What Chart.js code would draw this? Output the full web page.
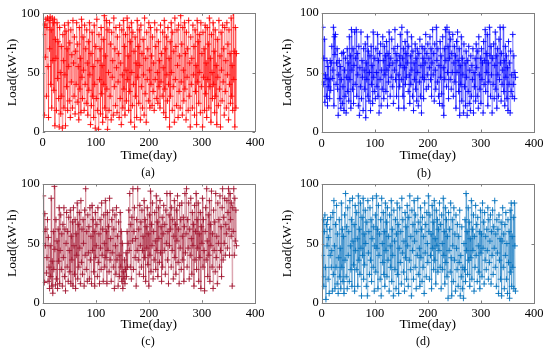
<!DOCTYPE html>
<html>
<head>
<meta charset="utf-8">
<script src="https://cdn.jsdelivr.net/npm/chart.js@4.4.0/dist/chart.umd.min.js"></script>
<style>
  html, body { margin: 0; padding: 0; background: #fff; }
  #wrap { position: relative; width: 550px; height: 349px; overflow: hidden; }
  canvas { position: absolute; }
  .cap { position: absolute; font-family: "Liberation Serif", "DejaVu Serif", serif; font-size: 12px; color: #000; transform: translate(-50%, -50%); white-space: nowrap; }
</style>
</head>
<body>
<div id="wrap">
  <canvas id="ca" width="275" height="175" style="left:0px;top:0px;width:275px;height:175px"></canvas>
  <canvas id="cb" width="275" height="175" style="left:275px;top:0px;width:275px;height:175px"></canvas>
  <canvas id="cc" width="275" height="175" style="left:0px;top:171px;width:275px;height:175px"></canvas>
  <canvas id="cd" width="275" height="175" style="left:275px;top:171px;width:275px;height:175px"></canvas>
  <div class="cap" style="left:148px;top:172px">(a)</div>
  <div class="cap" style="left:424px;top:173px">(b)</div>
  <div class="cap" style="left:148px;top:341px">(c)</div>
  <div class="cap" style="left:423px;top:341px">(d)</div>
</div>
<script>
const xTickValues = [0, 100, 200, 300, 400];
const yTickValues = [0, 50, 100];
const xTitle = "Time(day)";
const yTitle = "Load(kW·h)";

const loadA = [
82,90,14,91,63,95,30,88,96,55,12,94,70,97,40,86,20,96,60,92,
35,95,5,78,62,18,92,45,76,28,4,88,50,15,72,30,3,82,60,20,
90,48,5,85,38,70,18,92,55,26,75,12,86,42,65,20,94,58,30,80,
15,68,40,92,25,74,55,10,88,36,62,16,95,46,28,80,52,18,90,40,
70,24,86,58,14,76,35,92,48,6,66,22,84,30,55,12,90,40,3,72,
28,95,18,60,2,82,44,70,15,88,32,56,8,78,40,98,20,64,12,94,
36,2,86,50,18,92,30,74,10,84,46,60,14,96,38,70,22,88,54,16,
80,42,66,12,90,28,58,6,86,48,20,94,36,72,14,82,52,26,96,44,
64,18,88,34,76,8,92,50,22,84,40,68,4,80,30,58,12,94,46,72,
24,86,56,10,90,38,66,20,78,48,14,96,32,62,8,84,44,70,26,92,
52,20,88,40,64,22,80,34,58,18,92,44,72,28,86,50,24,76,38,60,
20,90,42,66,30,84,54,16,94,36,70,12,80,48,26,88,40,62,4,76,
30,92,50,18,84,38,68,8,96,44,72,22,86,56,12,90,34,64,20,98,
42,74,14,88,52,26,92,36,66,10,84,46,70,18,94,30,58,4,80,40,
62,20,90,48,72,14,86,34,56,6,94,42,76,24,82,50,16,92,38,66,
4,84,46,70,18,90,32,58,12,88,44,74,20,96,38,62,8,82,50,28,
92,40,68,16,86,30,56,6,78,46,22,94,36,64,4,84,52,26,90,42,
70,14,88,34,60,20,92,48,74,10,86,40,66,24,96,30,56,18,100,44,
68,4,88,20,66];

const loadB = [
42,88,40,62,78,25,48,45,30,60,22,55,38,44,28,60,35,58,72,45,
52,88,22,80,65,82,40,58,70,36,14,48,60,28,55,20,44,66,24,38,
67,18,52,30,62,16,46,70,34,58,26,80,44,64,20,86,52,36,70,24,
56,84,40,62,86,30,66,48,22,72,14,54,38,84,28,60,46,18,70,52,
36,74,12,58,44,80,30,68,26,50,64,18,72,40,56,24,84,46,34,62,
28,70,50,38,82,30,60,16,66,44,74,22,52,36,80,60,28,72,48,64,
34,76,52,22,66,42,84,56,30,62,46,78,38,58,24,70,52,86,44,66,
30,60,72,48,20,64,38,82,56,44,88,62,30,70,20,54,76,40,66,46,
84,58,34,72,48,24,64,40,80,52,30,68,18,58,44,74,36,62,26,70,
50,22,66,42,78,30,56,16,72,46,62,28,70,44,58,82,36,66,48,74,
38,62,54,80,44,70,30,58,86,48,66,26,74,52,36,88,60,42,70,30,
56,24,76,46,64,32,22,80,54,14,70,44,86,60,38,88,50,72,28,84,
62,44,78,36,66,50,82,30,58,72,42,64,20,76,50,84,60,34,70,14,
56,40,80,26,62,48,16,74,38,58,22,68,46,14,60,34,72,24,52,18,
64,30,56,44,70,16,50,38,62,26,74,54,30,68,20,80,48,36,62,24,
70,44,58,16,76,40,60,86,34,66,50,82,22,58,42,88,64,30,72,48,
16,62,40,74,28,56,84,36,64,20,70,48,30,78,44,88,58,26,66,40,
52,88,34,60,22,72,46,64,28,54,18,76,40,58,16,68,34,48,30,82,
40,64,28,50,46];

const loadC = [
90,60,17,75,48,62,25,38,70,18,55,30,12,48,22,88,14,35,8,60,
28,98,45,15,70,20,52,12,62,35,80,16,44,74,28,58,14,66,38,80,
22,62,10,50,76,30,60,18,72,44,26,78,16,56,36,68,14,80,48,24,
70,12,58,40,84,20,66,30,76,46,16,86,34,62,24,70,50,14,78,40,
96,28,60,18,74,42,64,20,80,36,56,16,82,44,70,26,60,14,76,38,
48,66,22,80,34,58,16,70,46,28,84,40,62,18,74,50,30,86,38,60,
16,76,44,64,26,88,36,54,18,70,42,78,30,62,12,74,48,24,80,36,
56,14,68,40,22,76,30,60,18,50,12,26,20,36,16,28,42,22,60,30,
50,78,44,92,30,66,20,72,52,96,28,60,80,38,54,14,70,44,96,36,
62,24,82,48,68,30,78,44,56,22,86,38,70,18,64,46,80,32,58,14,
74,40,94,26,66,48,84,20,60,36,76,52,28,90,44,68,22,80,54,34,
86,42,64,18,72,30,58,82,44,66,24,78,50,92,36,60,16,74,48,92,
62,30,80,44,70,20,56,86,38,66,24,78,52,90,34,62,16,82,46,70,
28,84,56,36,72,18,64,92,42,58,96,30,70,46,84,20,62,40,88,54,
24,76,48,66,14,82,36,60,92,28,70,46,84,18,58,38,76,12,64,50,
88,30,70,44,10,60,80,36,96,52,22,74,40,86,18,66,48,94,30,58,
12,78,44,68,26,92,38,56,16,84,50,70,30,90,44,64,22,80,96,36,
72,50,88,40,66,58,86,46,76,96,62,40,92,70,56,84,14,80,60,96,
40,88,52,78,48];

const loadD = [
40,22,70,14,60,74,30,3,66,48,70,20,55,8,62,40,72,30,44,10,
76,24,86,48,12,66,30,82,16,58,8,38,70,22,46,12,84,30,62,18,
56,8,74,36,92,22,64,12,80,40,60,18,86,48,28,70,14,88,52,32,
66,10,82,44,28,76,54,14,90,36,62,24,84,46,6,72,40,88,20,58,
32,78,50,14,68,6,86,42,60,24,80,36,70,18,54,88,30,64,10,48,
74,26,90,46,62,12,82,40,58,20,70,6,88,50,34,76,24,60,14,84,
44,68,22,80,36,56,10,74,48,30,86,18,62,40,6,78,52,28,70,12,
58,84,24,66,8,46,80,34,60,16,88,42,70,26,52,10,76,38,64,20,
82,48,14,72,36,90,28,56,6,78,44,66,20,86,52,30,74,12,60,40,
88,24,68,46,14,80,38,62,18,72,30,56,8,84,42,66,22,76,50,34,
90,60,20,74,40,58,12,82,46,68,28,86,36,54,16,78,48,70,26,62,
44,84,30,66,12,74,50,28,88,40,60,16,80,34,70,22,56,4,76,44,
62,26,84,38,6,70,48,18,80,36,58,10,74,46,28,66,14,56,34,78,
6,40,22,64,12,30,4,50,28,70,18,92,44,60,24,80,36,68,14,54,
38,86,20,62,44,74,10,56,30,82,40,66,18,72,48,26,60,12,78,42,
58,22,84,46,68,16,76,36,56,28,62,44,80,20,70,34,52,74,16,60,
40,78,24,64,46,86,30,58,14,70,42,62,8,74,36,54,20,68,6,52,
80,30,58,12,66,40,76,20,50,8,70,34,60,4,78,26,84,14,56,30,
72,12,84,48,10];

const FONT = "'Liberation Serif', 'DejaVu Serif', serif";

const boxPlugin = {
  id: 'matlabBox',
  afterDraw(chart) {
    const { ctx, chartArea: a, scales } = chart;
    ctx.save();
    ctx.strokeStyle = '#7f7f7f';
    ctx.lineWidth = 1;
    ctx.strokeRect(Math.round(a.left) + 0.5, Math.round(a.top) + 0.5, Math.round(a.right - a.left), Math.round(a.bottom - a.top));
    const tl = 2.5;
    ctx.beginPath();
    xTickValues.forEach(v => {
      const px = Math.round(scales.x.getPixelForValue(v)) + 0.5;
      ctx.moveTo(px, a.bottom); ctx.lineTo(px, a.bottom - tl);
      ctx.moveTo(px, a.top); ctx.lineTo(px, a.top + tl);
    });
    yTickValues.forEach(v => {
      const py = Math.round(scales.y.getPixelForValue(v)) + 0.5;
      ctx.moveTo(a.left, py); ctx.lineTo(a.left + tl, py);
      ctx.moveTo(a.right, py); ctx.lineTo(a.right - tl, py);
    });
    ctx.stroke();
    ctx.restore();
  }
};

function makeChart(id, values, markColor, lineColor, g) {
  new Chart(document.getElementById(id), {
    type: 'line',
    data: {
      datasets: [{
        data: values.map((v, i) => ({ x: i + 1, y: v })),
        borderColor: lineColor,
        borderWidth: 0.8,
        pointStyle: 'cross',
        pointRadius: 3,
        pointBorderColor: markColor,
        pointBackgroundColor: markColor,
        pointBorderWidth: 0.9,
        tension: 0,
        fill: false
      }]
    },
    options: {
      responsive: false,
      animation: false,
      devicePixelRatio: 1,
      layout: { padding: { top: g.top, right: g.right, left: 0, bottom: 0 } },
      plugins: { legend: { display: false }, tooltip: { enabled: false } },
      scales: {
        x: {
          type: 'linear', min: 0, max: 400,
          afterBuildTicks: s => { s.ticks = xTickValues.map(v => ({ value: v })); },
          ticks: { color: '#000', padding: g.xtp, font: { family: FONT, size: 12.5 }, maxRotation: 0 },
          grid: { display: false, drawTicks: false },
          border: { display: false },
          title: { display: true, text: xTitle, color: '#000', font: { family: FONT, size: 13.5 }, padding: { top: 0, bottom: g.xtitle } },
          afterFit: s => { s.height = g.xh; }
        },
        y: {
          type: 'linear', min: 0, max: 100,
          afterBuildTicks: s => { s.ticks = yTickValues.map(v => ({ value: v })); },
          ticks: { color: '#000', padding: 3, font: { family: FONT, size: 12.5 } },
          grid: { display: false, drawTicks: false },
          border: { display: false },
          title: { display: true, text: yTitle, color: '#000', font: { family: FONT, size: 13.5 }, padding: { top: g.ytitle, bottom: 0 } },
          afterFit: s => { s.width = g.yw; }
        }
      }
    },
    plugins: [boxPlugin]
  });
}

makeChart('ca', loadA, '#ff0000', 'rgba(255,0,0,0.4)',
  { top: 13.3, right: 20, yw: 42.7, xh: 43.3, xtp: 4, xtitle: 11, ytitle: 4.6 });
makeChart('cb', loadB, '#0000ff', 'rgba(0,0,255,0.4)',
  { top: 13, right: 16, yw: 46.7, xh: 43, xtp: 4, xtitle: 11, ytitle: 4.6 });
makeChart('cc', loadC, '#a2142f', 'rgba(162,20,47,0.38)',
  { top: 13, right: 20, yw: 42.7, xh: 43.3, xtp: 3.4, xtitle: 13, ytitle: 4.6 });
makeChart('cd', loadD, '#0072bd', 'rgba(0,114,189,0.38)',
  { top: 13, right: 16, yw: 46.7, xh: 43, xtp: 3.4, xtitle: 13, ytitle: 4.6 });
</script>
</body>
</html>
